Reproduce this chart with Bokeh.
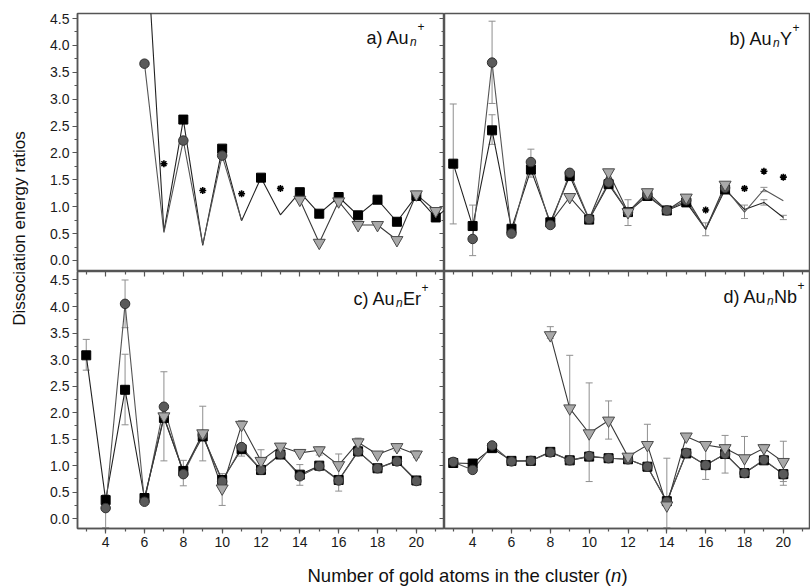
import math
from bokeh.plotting import figure
from bokeh.models import (Range1d, SingleIntervalTicker, FixedTicker, LinearAxis, Whisker, TeeHead,
                          ColumnDataSource, Label, PrintfTickFormatter)
from bokeh.layouts import row, column
from bokeh.embed import file_html
from bokeh.resources import INLINE

FONT = "Liberation Sans"

# ---------------- data ----------------
# a) Au_n+
a_sq_n = [6, 7, 8, 9, 10, 11, 12, 13, 14, 15, 16, 17, 18, 19, 20, 21, 22]
a_sq_v = [6.6, 0.54, 2.62, 0.28, 2.08, 0.74, 1.54, 0.85, 1.27, 0.87, 1.18, 0.84, 1.13, 0.72, 1.20, 0.80, 1.10]
a_sq_mark = [8, 10, 12, 14, 15, 16, 17, 18, 19, 20, 21]
a_ci_n = [6, 7, 8, 9, 10, 11]
a_ci_v = [3.66, 0.52, 2.23, 0.30, 1.95, 0.74]
a_ci_mark = [6, 8, 10]
a_tr_n = [14, 15, 16, 17, 18, 19, 20, 21]
a_tr_v = [1.13, 0.33, 1.10, 0.66, 0.66, 0.38, 1.23, 0.92]
a_tr_mark = [14, 15, 16, 17, 18, 19, 20, 21]
a_st_n = [7, 9, 11, 13]
a_st_v = [1.80, 1.30, 1.24, 1.34]
a_err_n, a_err_lo, a_err_hi = [], [], []

# b) Au_nY+
b_sq_n = list(range(3, 21))
b_sq_v = [1.80, 0.64, 2.42, 0.59, 1.69, 0.71, 1.57, 0.76, 1.42, 0.90, 1.20, 0.93, 1.08, 0.58, 1.32, 0.95, 1.08, 0.80]
b_sq_mark = [3, 4, 5, 6, 7, 8, 9, 10, 11, 12, 13, 14, 15, 17]
b_ci_n = list(range(4, 21))
b_ci_v = [0.40, 3.68, 0.50, 1.83, 0.66, 1.63, 0.77, 1.45, 0.90, 1.22, 0.93, 1.12, 0.58, 1.35, 0.90, 1.32, 1.11]
b_ci_mark = [4, 5, 6, 7, 8, 9, 10, 11, 12, 13, 14, 15, 17]
b_tr_n = [8, 9, 10, 11, 12, 13, 14, 15, 16, 17]
b_tr_v = [0.70, 1.18, 0.77, 1.64, 0.90, 1.27, 0.93, 1.17, 0.58, 1.41]
b_tr_mark = [9, 11, 12, 13, 15, 17]
b_st_n = [16, 18, 19, 20]
b_st_v = [0.94, 1.34, 1.66, 1.55]
b_err_n = [3, 4, 5, 5, 7, 12, 13, 15, 16, 17, 18, 19, 19, 20]
b_err_lo = [0.68, 0.09, 2.16, 2.92, 1.55, 0.65, 1.15, 1.02, 0.46, 1.25, 0.78, 1.28, 1.03, 0.76]
b_err_hi = [2.91, 1.03, 2.71, 4.45, 2.07, 1.13, 1.30, 1.22, 0.70, 1.45, 1.03, 1.36, 1.13, 0.84]

# c) Au_nEr+
c_sq_n = list(range(3, 21))
c_sq_v = [3.08, 0.35, 2.43, 0.39, 1.90, 0.90, 1.55, 0.73, 1.31, 0.92, 1.21, 0.83, 1.00, 0.73, 1.27, 0.95, 1.09, 0.72]
c_sq_mark = c_sq_n
c_ci_n = list(range(4, 21))
c_ci_v = [0.20, 4.05, 0.32, 2.11, 0.84, 1.58, 0.70, 1.35, 0.92, 1.22, 0.80, 0.99, 0.72, 1.27, 0.95, 1.08, 0.71]
c_ci_mark = c_ci_n
c_tr_n = list(range(6, 21))
c_tr_v = [0.38, 1.93, 0.88, 1.61, 0.57, 1.77, 1.09, 1.36, 1.24, 1.29, 1.01, 1.44, 1.21, 1.35, 1.21]
c_tr_mark = [7, 9, 10, 11, 12, 13, 14, 15, 16, 17, 18, 19, 20]
c_st_n, c_st_v = [], []
c_err_n = [3, 4, 5, 5, 7, 8, 9, 10, 11, 12, 14, 15, 16, 17, 19, 20]
c_err_lo = [2.80, -0.17, 1.77, 3.60, 1.09, 0.62, 1.09, 0.25, 1.18, 0.83, 0.63, 1.20, 0.52, 1.35, 1.28, 1.15]
c_err_hi = [3.38, 0.45, 3.10, 4.50, 2.77, 1.10, 2.12, 0.85, 1.85, 1.30, 1.02, 1.35, 1.22, 1.52, 1.40, 1.28]

# d) Au_nNb+
d_sq_n = list(range(3, 21))
d_sq_v = [1.05, 1.04, 1.33, 1.09, 1.09, 1.26, 1.10, 1.17, 1.14, 1.12, 0.98, 0.33, 1.23, 1.01, 1.22, 0.86, 1.10, 0.84]
d_sq_mark = d_sq_n
d_ci_n = list(range(3, 21))
d_ci_v = [1.07, 0.92, 1.38, 1.08, 1.09, 1.25, 1.10, 1.18, 1.14, 1.12, 0.98, 0.32, 1.24, 1.01, 1.22, 0.86, 1.11, 0.84]
d_ci_mark = d_ci_n
d_tr_n = list(range(8, 21))
d_tr_v = [3.46, 2.08, 1.61, 1.85, 1.17, 1.39, 0.25, 1.55, 1.39, 1.33, 1.14, 1.33, 1.07]
d_tr_mark = d_tr_n
d_st_n, d_st_v = [], []
d_err_n = [3, 8, 9, 10, 11, 13, 14, 16, 17, 18, 19, 20, 20]
d_err_lo = [0.98, 3.40, 1.10, 0.70, 1.50, 1.00, -0.17, 0.74, 0.86, 0.80, 1.28, 0.63, 0.70]
d_err_hi = [1.15, 3.62, 3.08, 2.56, 2.22, 1.78, 1.14, 1.42, 1.57, 1.55, 1.40, 1.46, 0.75]

# tick positions
x_major_ticks = [2, 4, 6, 8, 10, 12, 14, 16, 18, 20, 22]
x_minor_ticks = [3, 5, 7, 9, 11, 13, 15, 17, 19, 21]
y_major_ticks = [0.0, 0.5, 1.0, 1.5, 2.0, 2.5, 3.0, 3.5, 4.0, 4.5]
y_minor_ticks = [-0.25, 0.25, 0.75, 1.25, 1.75, 2.25, 2.75, 3.25, 3.75, 4.25]

# ---------------- layout constants ----------------
XR = (2.55, 21.45)
YR_TOP = (-0.205, 4.593)
YR_BOT = (-0.185, 4.66)
YLAB_W = 38
LEFT_B = 39
FRAME_W_L, FRAME_W_R = 367, 366
FRAME_H_T, FRAME_H_B = 258, 257
TOP_B = 13
BOT_B = 24
TOTAL_H = 586
AXC = "#555555"
TICK_FS = "14px"
PXU = FRAME_W_L / (XR[1] - XR[0])
XR_RIGHT = (XR[0], XR[0] + FRAME_W_R / PXU)


def style_axis(ax):
    ax.axis_line_color = AXC
    ax.axis_line_width = 1.5
    ax.major_tick_line_color = AXC
    ax.minor_tick_line_color = AXC
    ax.major_tick_line_width = 1.2
    ax.minor_tick_line_width = 1.2
    ax.major_tick_out = 5
    ax.major_tick_in = 0
    ax.minor_tick_out = 3
    ax.minor_tick_in = 0
    ax.major_label_text_font = FONT
    ax.major_label_text_font_size = TICK_FS
    ax.major_label_text_color = "#1a1a1a"
    ax.major_label_standoff = 3


def inward_ticks(p, ticks, length, side):
    # tick marks of the neighbouring panel's axis that poke into this frame
    ax = LinearAxis(ticker=FixedTicker(ticks=[], minor_ticks=ticks),
                    major_tick_in=0, major_tick_out=0,
                    minor_tick_in=length, minor_tick_out=0,
                    axis_line_color=None, minor_tick_line_color=AXC,
                    minor_tick_line_width=1.2)
    p.add_layout(ax, side)


def make_panel(col, rowi):
    fw = FRAME_W_L if col == 0 else FRAME_W_R
    fh = FRAME_H_T if rowi == 0 else FRAME_H_B
    lb = LEFT_B if col == 0 else 0
    tb = TOP_B if rowi == 0 else 0
    bb = BOT_B if rowi == 1 else 0
    yr = YR_TOP if rowi == 0 else YR_BOT
    xr = XR if col == 0 else XR_RIGHT
    p = figure(width=fw + lb, height=fh + tb + bb, title=None,
               x_range=Range1d(*xr), y_range=Range1d(*yr),
               output_backend="svg", toolbar_location=None,
               min_border_left=lb, min_border_right=0,
               min_border_top=tb, min_border_bottom=bb,
               outline_line_color=AXC, outline_line_width=1.5,
               background_fill_color="white", border_fill_color="white")
    p.grid.visible = False
    p.xaxis.ticker = SingleIntervalTicker(interval=2, num_minor_ticks=2)
    p.yaxis.ticker = SingleIntervalTicker(interval=0.5, num_minor_ticks=2)
    p.yaxis.formatter = PrintfTickFormatter(format="%.1f")
    if col == 0:
        style_axis(p.yaxis[0])
        inward_ticks(p, y_major_ticks, 5, "right")
        inward_ticks(p, y_minor_ticks, 3, "right")
    else:
        p.yaxis.visible = False
    if rowi == 1:
        style_axis(p.xaxis[0])
        inward_ticks(p, x_major_ticks, 5, "above")
        inward_ticks(p, x_minor_ticks, 3, "above")
    else:
        p.xaxis.visible = False
    return p


def subset(n, v, mark):
    xs, ys = [], []
    for a, b in zip(n, v):
        if a in mark:
            xs.append(a)
            ys.append(b)
    return xs, ys


def draw(p, sq, ci, tr, st, err):
    if err[0]:
        src = ColumnDataSource(dict(base=err[0], lower=err[1], upper=err[2]))
        p.add_layout(Whisker(source=src, base="base", lower="lower", upper="upper",
                             line_color="#8f8f8f", line_width=1,
                             upper_head=TeeHead(size=7, line_color="#8f8f8f", line_width=1),
                             lower_head=TeeHead(size=7, line_color="#8f8f8f", line_width=1)))
    p.line(sq[0], sq[1], line_color="#222222", line_width=1.1)
    p.line(ci[0], ci[1], line_color="#555555", line_width=1.1)
    p.line(tr[0], tr[1], line_color="#3a3a3a", line_width=1.1)
    x, y = subset(*sq)
    p.scatter(x, y, marker="square", size=9, fill_color="black", line_color="black")
    x, y = subset(*ci)
    p.scatter(x, y, marker="circle", size=9.5, fill_color="#5a5a5a", line_color="#303030", line_width=1)
    x, y = subset(*tr)
    p.scatter(x, y, marker="inverted_triangle", size=12, fill_color="#a9a9a9", line_color="#4a4a4a", line_width=1)
    if st[0]:
        p.scatter(st[0], st[1], marker="asterisk", size=7, line_color="black", line_width=1.6)


def panel_label(p, start_px, base_off, yr, fh, pieces):
    """base_off: baseline of the main text, in px below the frame top."""
    pyu = fh / (yr[1] - yr[0])
    x_px = start_px
    for text, kind, width in pieces:
        if kind == "base":
            fs, style, mid = 18, "normal", base_off - 0.35 * 18
        elif kind == "sub":
            fs, style, mid = 12, "italic", base_off + 2 - 0.35 * 12
        else:
            fs, style, mid = 12, "normal", base_off - 18.5
        p.add_layout(Label(x=XR[0] + x_px / PXU, y=yr[1] - mid / pyu, text=text, text_font=FONT,
                           text_font_size=f"{fs}px", text_font_style=style,
                           text_color="#111111", text_align="left",
                           text_baseline="middle"))
        x_px += width


pa = make_panel(0, 0)
pb = make_panel(1, 0)
pc = make_panel(0, 1)
pd = make_panel(1, 1)

draw(pa, (a_sq_n, a_sq_v, a_sq_mark), (a_ci_n, a_ci_v, a_ci_mark), (a_tr_n, a_tr_v, a_tr_mark),
     (a_st_n, a_st_v), (a_err_n, a_err_lo, a_err_hi))
draw(pb, (b_sq_n, b_sq_v, b_sq_mark), (b_ci_n, b_ci_v, b_ci_mark), (b_tr_n, b_tr_v, b_tr_mark),
     (b_st_n, b_st_v), (b_err_n, b_err_lo, b_err_hi))
draw(pc, (c_sq_n, c_sq_v, c_sq_mark), (c_ci_n, c_ci_v, c_ci_mark), (c_tr_n, c_tr_v, c_tr_mark),
     (c_st_n, c_st_v), (c_err_n, c_err_lo, c_err_hi))
draw(pd, (d_sq_n, d_sq_v, d_sq_mark), (d_ci_n, d_ci_v, d_ci_mark), (d_tr_n, d_tr_v, d_tr_mark),
     (d_st_n, d_st_v), (d_err_n, d_err_lo, d_err_hi))

panel_label(pa, 289, 31, YR_TOP, FRAME_H_T,
            [("a) Au", "base", 43.5), ("n", "sub", 7.5), ("+", "sup", 7)])
panel_label(pb, 285, 32, YR_TOP, FRAME_H_T,
            [("b) Au", "base", 43.5), ("n", "sub", 7.0), ("Y", "base", 12.5), ("+", "sup", 7)])
panel_label(pc, 276, 34, YR_BOT, FRAME_H_B,
            [("c) Au", "base", 42.5), ("n", "sub", 7.0), ("Er", "base", 18.5), ("+", "sup", 7)])
panel_label(pd, 279, 32, YR_BOT, FRAME_H_B,
            [("d) Au", "base", 43.5), ("n", "sub", 7.0), ("Nb", "base", 23.5), ("+", "sup", 7)])

# y-axis title
H_GRID = TOP_B + FRAME_H_T + FRAME_H_B + BOT_B
ylab = figure(width=YLAB_W, height=H_GRID, title=None,
              x_range=Range1d(0, YLAB_W), y_range=Range1d(0, H_GRID),
              x_axis_type=None, y_axis_type=None, outline_line_color=None,
              min_border=0, output_backend="svg", toolbar_location=None)
ylab.grid.visible = False
ylab.add_layout(Label(x=19, y=H_GRID - 228, text="Dissociation energy ratios", angle=math.pi / 2,
                      text_font=FONT, text_font_size="17px", text_color="#111111",
                      text_align="center", text_baseline="middle"))

# x-axis title
TOTAL_W = YLAB_W + LEFT_B + FRAME_W_L + FRAME_W_R
XLAB_H = TOTAL_H - H_GRID
xlab = figure(width=TOTAL_W, height=XLAB_H, title=None,
              x_range=Range1d(0, TOTAL_W), y_range=Range1d(0, XLAB_H),
              x_axis_type=None, y_axis_type=None, outline_line_color=None,
              min_border=0, output_backend="svg", toolbar_location=None)
xlab.grid.visible = False
x0 = 307
XFS = 18.5
mid_y = XLAB_H - (581 - H_GRID - 0.35 * XFS)   # baseline at about y = 581 px
xlab.add_layout(Label(x=x0, y=mid_y, text="Number of gold atoms in the cluster (", text_font=FONT,
                      text_font_size=f"{XFS}px", text_color="#111111", text_align="left",
                      text_baseline="middle"))
xlab.add_layout(Label(x=x0 + 303.5, y=mid_y, text="n", text_font=FONT, text_font_style="italic",
                      text_font_size=f"{XFS}px", text_color="#111111", text_align="left",
                      text_baseline="middle"))
xlab.add_layout(Label(x=x0 + 314, y=mid_y, text=")", text_font=FONT,
                      text_font_size=f"{XFS}px", text_color="#111111", text_align="left",
                      text_baseline="middle"))

layout = column(row(ylab, column(row(pa, pb), row(pc, pd))), xlab)

open("out.html", "w").write(file_html(layout, INLINE))
